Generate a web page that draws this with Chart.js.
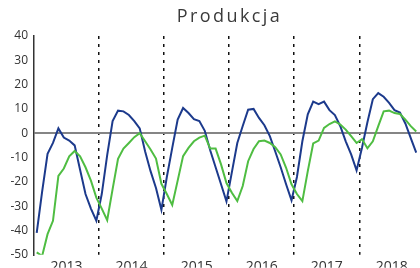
<!DOCTYPE html>
<html><head><meta charset="utf-8">
<script src="https://cdn.jsdelivr.net/npm/chart.js@4.4.0/dist/chart.umd.min.js"></script>
<style>html,body{margin:0;padding:0;background:#fff}#wrap{width:420px;height:268px;position:relative}</style>
</head><body><div id="wrap"><canvas id="c"></canvas></div>
<script>
const chartTitle = 'Produkcja';
const years = ['2013','2014','2015','2016','2017','2018'];
const yTicks = [40,30,20,10,0,-10,-20,-30,-40,-50];
// monthly values, Jan 2013 .. Nov 2018
const seriesBlue = [
  -41,-24,-8.5,-4,2,-1.8,-3,-5,-15,-25,-31,-36,
  -25,-9,5,9.3,9,7.5,5,2,-7.5,-15.6,-22.5,-31.5,
  -18,-6,5.6,10.4,8.3,5.8,5,1,-7,-14,-21,-28,
  -16,-4,3,9.7,10,6.3,3.3,-1.2,-7.5,-14,-21,-27.6,
  -18,-3.3,7.8,13,12,13,9.5,7.5,2.9,-3.3,-8.7,-15.3,
  -6,4.5,14,16.5,15,12.5,9.5,8.5,4,-2,-8
];
const seriesGreen = [
  -49,-50.5,-41.5,-36,-17.5,-14.5,-9.5,-7.3,-9.5,-14,-19.5,-26.5,
  -31,-35.8,-23,-10.5,-6.3,-4,-1.6,0,-3.3,-6.7,-10.4,-20.8,
  -25,-29.5,-19.5,-9.4,-6,-3.3,-1.8,-1,-6.3,-6.3,-12.8,-20.5,
  -24.5,-27.9,-21.7,-11.5,-6.5,-3.3,-3,-4,-5.7,-8.7,-14.2,-21,
  -25,-27.9,-15.6,-4.2,-3,2.2,3.8,4.9,3.6,1.5,-1.2,-4,
  -2.4,-6.2,-3.3,2.9,9,9.3,8.3,7.9,5.6,2.9,0.7
];

const toPoints = arr => arr.map((v, i) => ({x: i + 0.5, y: v}));

const spacedTitle = {
  id: 'spacedTitle',
  afterDraw(chart) {
    const ctx = chart.ctx, a = chart.chartArea;
    ctx.save();
    ctx.font = '18px "Open Sans"';
    ctx.letterSpacing = '2.4px';
    ctx.fillStyle = '#3a3a3a';
    ctx.textAlign = 'center';
    ctx.textBaseline = 'middle';
    ctx.fillText(chartTitle, (a.left + a.right) / 2 + 2.5, 17);
    ctx.restore();
  }
};

new Chart(document.getElementById('c'), {
  type: 'line',
  data: {
    datasets: [
      {data: toPoints(seriesGreen), borderColor: '#4fbd42', borderWidth: 2, pointRadius: 0, tension: 0},
      {data: toPoints(seriesBlue), borderColor: '#1c3a8c', borderWidth: 2, pointRadius: 0, tension: 0}
    ]
  },
  options: {
    responsive: true, maintainAspectRatio: false, animation: false, devicePixelRatio: 1,
    layout: {padding: {top: 36, left: 0, right: 0, bottom: 0}},
    plugins: {legend: {display: false}, tooltip: {enabled: false}, title: {display: false}},
    scales: {
      x: {
        type: 'linear', position: 'bottom', min: 0, max: 71.2,
        afterBuildTicks: s => { s.ticks = years.map((y, k) => ({value: k * 12 + 6})); },
        afterFit: s => { s.height = 13; },
        ticks: {callback: (v, i) => years[i], color: '#333', font: {family: 'Open Sans', size: 14}, padding: 4, maxRotation: 0, autoSkip: false},
        grid: {display: false, drawTicks: false},
        border: {display: false}
      },
      xb: {
        type: 'linear', position: 'top', min: 0, max: 71.2,
        afterBuildTicks: s => { s.ticks = years.slice(1).map((y, k) => ({value: (k + 1) * 12})); },
        afterFit: s => { s.height = 0; },
        ticks: {display: false},
        grid: {drawTicks: false, color: '#111', lineWidth: 1.5},
        border: {display: false, dash: [3, 5]}
      },
      y: {
        min: -50, max: 40,
        afterBuildTicks: s => { s.ticks = yTicks.map(v => ({value: v})); },
        afterFit: s => { s.width = 34; },
        ticks: {color: '#333', font: {family: 'Open Sans', size: 12}, padding: 6},
        grid: {drawTicks: false, lineWidth: 2, color: c => (c.tick && c.tick.value === 0) ? '#858585' : 'rgba(0,0,0,0)'},
        border: {display: true, color: '#333', width: 1.5}
      }
    }
  },
  plugins: [spacedTitle]
});
</script>
</body></html>
